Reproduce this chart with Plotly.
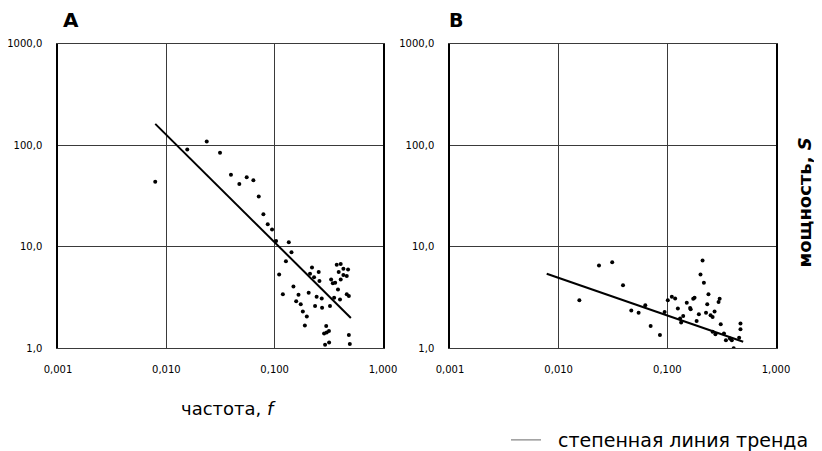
import plotly.graph_objects as go

# Panel A data (frequency f, power S)
a_f = [0.0079, 0.0156, 0.0236, 0.0313, 0.0395, 0.0472, 0.0552, 0.0636, 0.0713, 0.0787,
       0.0863, 0.0946, 0.103, 0.135, 0.143, 0.127, 0.110, 0.119, 0.149, 0.166,
       0.158, 0.174, 0.182, 0.198, 0.190, 0.206, 0.221, 0.212, 0.231, 0.255,
       0.259, 0.236, 0.244, 0.272, 0.274, 0.299, 0.286, 0.302, 0.317, 0.292,
       0.318, 0.324, 0.332, 0.344, 0.362, 0.354, 0.374, 0.407, 0.390, 0.431,
       0.476, 0.407, 0.431, 0.463, 0.384, 0.401, 0.463, 0.484, 0.484, 0.494]
a_s = [43.9, 91.0, 109.0, 84.6, 51.4, 41.6, 48.4, 45.2, 31.4, 20.9,
       16.7, 14.8, 11.4, 11.1, 8.85, 7.22, 5.34, 3.40, 4.07, 3.37,
       2.90, 2.71, 2.30, 2.05, 1.68, 3.53, 6.26, 5.42, 5.02, 5.63,
       4.59, 2.61, 3.22, 3.10, 2.51, 1.66, 1.40, 1.43, 1.48, 1.08,
       1.14, 2.61, 4.77, 4.36, 4.42, 3.15, 6.65, 6.75, 5.63, 6.08,
       5.98, 4.77, 5.26, 5.14, 3.80, 3.03, 3.40, 3.27, 1.35, 1.10]
a_trend_f = [0.0079, 0.505]
a_trend_s = [163.0, 1.99]

# Panel B data
b_f = [0.0155, 0.0235, 0.0311, 0.0391, 0.0466, 0.0544, 0.0627, 0.0702, 0.0855, 0.0944,
       0.101, 0.110, 0.118, 0.125, 0.131, 0.134, 0.140, 0.151, 0.162, 0.164,
       0.173, 0.178, 0.186, 0.195, 0.202, 0.211, 0.217, 0.227, 0.233, 0.239,
       0.250, 0.261, 0.272, 0.261, 0.277, 0.296, 0.303, 0.310, 0.332, 0.346,
       0.377, 0.392, 0.408, 0.458, 0.471, 0.471]
b_s = [2.97, 6.55, 7.06, 4.19, 2.35, 2.24, 2.65, 1.66, 1.35, 2.28,
       2.97, 3.22, 3.10, 2.46, 1.96, 1.79, 2.08, 2.81, 2.49, 2.42,
       3.08, 3.15, 1.86, 2.16, 5.34, 7.33, 4.42, 2.24, 2.71, 3.40,
       2.11, 2.03, 2.30, 1.45, 1.37, 2.85, 3.08, 1.72, 1.40, 1.20,
       1.25, 1.20, 1.00, 1.27, 1.75, 1.54]
b_trend_f = [0.00776, 0.499]
b_trend_s = [5.42, 1.16]

x_tickvals = [0.001, 0.01, 0.1, 1]
x_ticktext = ["0,001", "0,010", "0,100", "1,000"]
y_tickvals = [1, 10, 100, 1000]
y_ticktext = ["1,0", "10,0", "100,0", "1000,0"]

# the page body keeps its default 8px margin, so the figure is drawn 8px in
OFF = 8
W, H = 822, 451


def px_x(p):
    return (p - OFF) / W


def px_y(p):
    return 1 - (p - OFF) / H


fig = go.Figure()

fig.add_trace(go.Scatter(x=a_f, y=a_s, mode="markers", xaxis="x", yaxis="y",
                         marker=dict(color="black", size=4), showlegend=False))
fig.add_trace(go.Scatter(x=a_trend_f, y=a_trend_s, mode="lines", xaxis="x", yaxis="y",
                         line=dict(color="black", width=2), showlegend=False))
fig.add_trace(go.Scatter(x=b_f, y=b_s, mode="markers", xaxis="x2", yaxis="y2",
                         marker=dict(color="black", size=4), showlegend=False))
fig.add_trace(go.Scatter(x=b_trend_f, y=b_trend_s, mode="lines", xaxis="x2", yaxis="y2",
                         line=dict(color="black", width=2), showlegend=False))
fig.add_trace(go.Scatter(x=[None], y=[None], mode="lines",
                         name="\u00a0\u00a0степенная линия тренда",
                         line=dict(color="#9a9a9a", width=1.5), showlegend=True))

tick_font = dict(family="DejaVu Sans", size=10, color="black")
ydom = [px_y(349), px_y(44)]


def xax(dom, anchor):
    return dict(type="log", range=[-3, 0], domain=dom, anchor=anchor,
                tickvals=x_tickvals, ticktext=x_ticktext, tickfont=tick_font,
                showgrid=True, gridcolor="#3a3a3a", gridwidth=1,
                showline=True, linecolor="#3a3a3a", linewidth=1, mirror=True,
                ticks="", ticklen=0, ticklabelstandoff=12,
                automargin=False, zeroline=False)


def yax(anchor):
    return dict(type="log", range=[0, 3], domain=ydom, anchor=anchor,
                tickvals=y_tickvals, ticktext=y_ticktext, tickfont=tick_font,
                showgrid=True, gridcolor="#3a3a3a", gridwidth=1,
                showline=True, linecolor="black", linewidth=1.5, mirror=True,
                ticks="", ticklen=0, ticklabelstandoff=12,
                automargin=False, zeroline=False)


fig.update_layout(
    width=W, height=H,
    margin=dict(l=0, r=0, t=0, b=0),
    paper_bgcolor="white", plot_bgcolor="white",
    xaxis=xax([px_x(58), px_x(383)], "y"),
    yaxis=yax("x"),
    xaxis2=xax([px_x(450), px_x(776)], "y2"),
    yaxis2=yax("x2"),
    legend=dict(x=px_x(506), y=px_y(441), xanchor="left", yanchor="middle",
                font=dict(family="DejaVu Sans", size=19, color="black"),
                bgcolor="rgba(0,0,0,0)", itemwidth=30),
    annotations=[
        dict(text="<b>A</b>", x=px_x(71), y=px_y(20), xref="paper", yref="paper",
             xanchor="center", yanchor="middle", showarrow=False,
             font=dict(family="DejaVu Sans", size=20, color="black")),
        dict(text="<b>B</b>", x=px_x(456), y=px_y(20), xref="paper", yref="paper",
             xanchor="center", yanchor="middle", showarrow=False,
             font=dict(family="DejaVu Sans", size=19, color="black")),
        dict(text="частота, <i>f</i>", x=px_x(228), y=px_y(409), xref="paper", yref="paper",
             xanchor="center", yanchor="middle", showarrow=False,
             font=dict(family="DejaVu Sans", size=18, color="black")),
        dict(text="<b>мощность, <i>S</i></b>", x=px_x(805), y=px_y(203), xref="paper", yref="paper",
             xanchor="center", yanchor="middle", showarrow=False, textangle=-90,
             font=dict(family="DejaVu Sans", size=18, color="black")),
    ],
)

fig.write_html("out.html", config={"displayModeBar": False})
